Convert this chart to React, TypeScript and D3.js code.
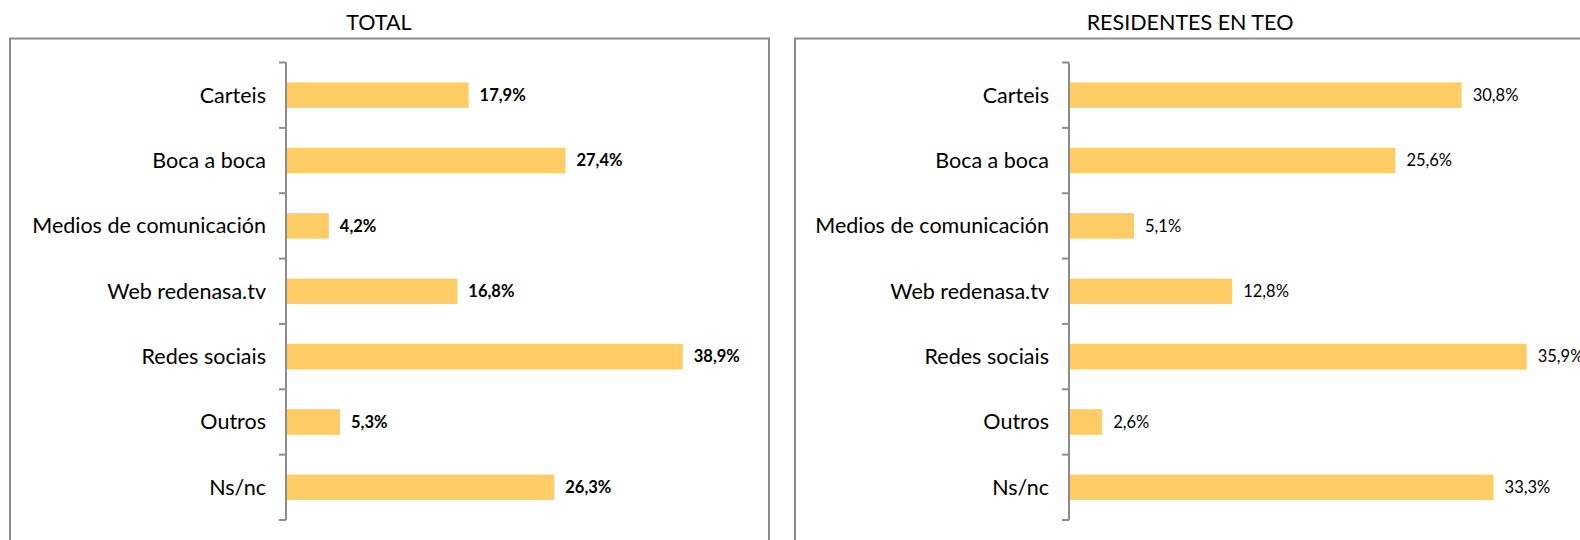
import React from 'react';
import * as d3 from 'd3';

// categories, top to bottom
const categories = [
  'Carteis',
  'Boca a boca',
  'Medios de comunicación',
  'Web redenasa.tv',
  'Redes sociais',
  'Outros',
  'Ns/nc',
];

const totalValues = [17.9, 27.4, 4.2, 16.8, 38.9, 5.3, 26.3];
const residentValues = [30.8, 25.6, 5.1, 12.8, 35.9, 2.6, 33.3];

const panelTitles = ['TOTAL', 'RESIDENTES EN TEO'];

const BAR_COLOR = '#FFCC66';
const LINE_COLOR = '#8C8C8C';
const FONT = 'Lato, "Open Sans", sans-serif';

const fmt = (v: number) => v.toFixed(1).replace('.', ',') + '%';

type PanelProps = {
  title: string;
  titleX: number;
  values: number[];
  left: number;
  right: number;
  axisX: number;
  xMax: number;
  xEnd: number;
  boldValues: boolean;
};

function Panel({title, titleX, values, left, right, axisX, xMax, xEnd, boldValues}: PanelProps) {
  const y = d3.scaleBand<string>()
    .domain(categories)
    .range([62.5, 520])
    .padding(0);
  const x = d3.scaleLinear()
    .domain([0, xMax])
    .range([axisX, xEnd]);

  const step = y.step();
  const barH = step * 0.39;
  const ticks = d3.range(categories.length + 1).map((i) => 62.5 + i * step);

  return (
    <g>
      <text
        x={titleX}
        y={30}
        textAnchor="middle"
        fontFamily={FONT}
        fontSize={21.5}
        fill="#000"
      >
        {title}
      </text>
      <rect
        x={left}
        y={38.5}
        width={right - left}
        height={520}
        fill="none"
        stroke={LINE_COLOR}
        strokeWidth={2}
      />
      {categories.map((c, i) => {
        const cy = (y(c) as number) + step / 2;
        return (
          <g key={c}>
            <rect
              x={x(0)}
              y={cy - barH / 2}
              width={x(values[i]) - x(0)}
              height={barH}
              fill={BAR_COLOR}
            />
            <text
              x={axisX - 20}
              y={cy}
              dy="0.35em"
              textAnchor="end"
              fontFamily={FONT}
              fontSize={21.5}
              fill="#000"
            >
              {c}
            </text>
            <text
              x={x(values[i]) + 11}
              y={cy}
              dy="0.35em"
              fontFamily={FONT}
              fontSize={16.5}
              fontWeight={boldValues ? 'bold' : 'normal'}
              fill="#000"
            >
              {fmt(values[i])}
            </text>
          </g>
        );
      })}
      <line x1={axisX} x2={axisX} y1={62.5} y2={520} stroke={LINE_COLOR} strokeWidth={2} />
      {ticks.map((t, i) => (
        <line key={i} x1={axisX - 7} x2={axisX} y1={t} y2={t} stroke={LINE_COLOR} strokeWidth={2} />
      ))}
    </g>
  );
}

export default function App() {
  return (
    <svg
      width={1580}
      height={540}
      style={{position: 'absolute', left: 0, top: 0, background: '#fff'}}
    >
      <rect width={1580} height={540} fill="#fff" />
      <Panel
        title={panelTitles[0]}
        titleX={379}
        values={totalValues}
        left={10}
        right={769}
        axisX={286}
        xMax={45}
        xEnd={745}
        boldValues={true}
      />
      <Panel
        title={panelTitles[1]}
        titleX={1190}
        values={residentValues}
        left={795}
        right={1600}
        axisX={1069}
        xMax={40}
        xEnd={1579}
        boldValues={false}
      />
    </svg>
  );
}
